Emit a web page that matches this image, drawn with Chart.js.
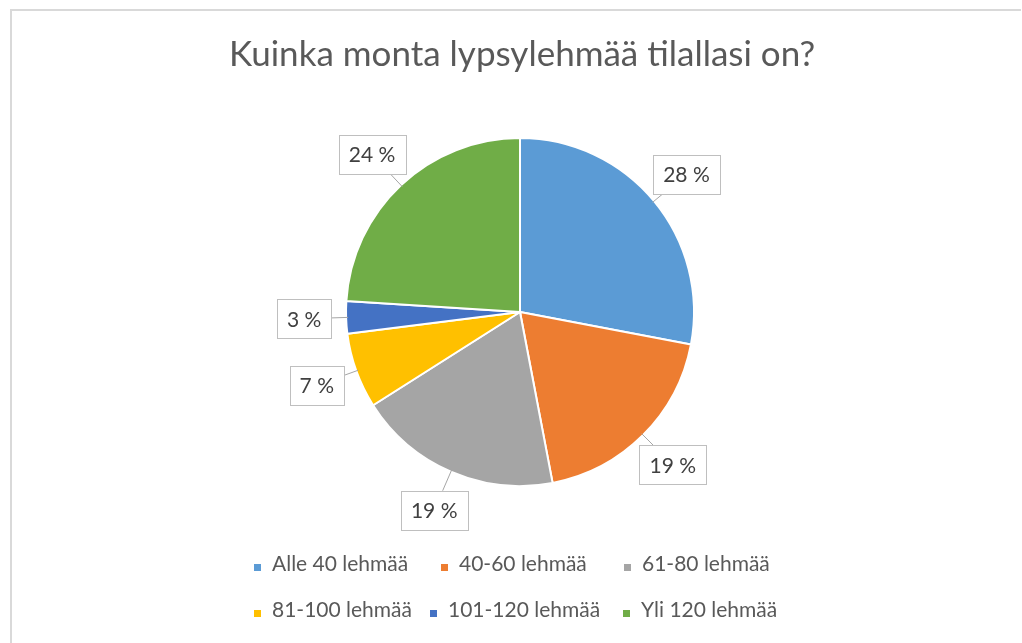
<!DOCTYPE html>
<html>
<head>
<meta charset="utf-8">
<script src="https://cdn.jsdelivr.net/npm/chart.js@4/dist/chart.umd.min.js"></script>
<style>
  html, body { margin: 0; padding: 0; background: #fff; }
</style>
</head>
<body>
<canvas id="myChart" width="1022" height="643"></canvas>
<script>
// Data
const titleText = 'Kuinka monta lypsylehmää tilallasi on?'
const categories = ['Alle 40 lehmää', '40-60 lehmää', '61-80 lehmää', '81-100 lehmää', '101-120 lehmää', 'Yli 120 lehmää']
const shares = [28, 19, 19, 7, 3, 24]
const sliceColors = ['#5B9BD5', '#ED7D31', '#A5A5A5', '#FFC000', '#4472C4', '#70AD47']

const FONT = 'Lato, "Open Sans", sans-serif'
const TEXT = '#595959'

// white background + thin gray frame like the excel chart area
const framePlugin = {
  id: 'frame',
  beforeDraw (chart) {
    const c = chart.ctx
    c.save()
    c.fillStyle = '#fff'
    c.fillRect(0, 0, chart.width, chart.height)
    c.strokeStyle = '#d9d9d9'
    c.lineWidth = 2
    c.beginPath()
    c.moveTo(11, chart.height)
    c.lineTo(11, 10)
    c.lineTo(1021, 10)
    c.stroke()
    c.restore()
  }
}

const titlePlugin = {
  id: 'bigTitle',
  afterDraw (chart) {
    const c = chart.ctx
    c.save()
    c.font = '400 35px ' + FONT
    c.fillStyle = TEXT
    c.textAlign = 'center'
    c.textBaseline = 'alphabetic'
    c.fillText(titleText, 522, 66)
    c.restore()
  }
}

// boxed percentage labels with short leader lines
const calloutPlugin = {
  id: 'callouts',
  afterDatasetsDraw (chart) {
    const c = chart.ctx
    const meta = chart.getDatasetMeta(0)
    const total = shares.reduce((a, b) => a + b, 0)
    c.save()
    c.font = '21px ' + FONT
    meta.data.forEach((arc, i) => {
      const p = arc.getProps(['x', 'y', 'startAngle', 'endAngle', 'outerRadius'], true)
      const mid = (p.startAngle + p.endAngle) / 2
      const txt = Math.round(shares[i] / total * 100) + ' %'
      const w = Math.round(c.measureText(txt).width + 20)
      const h = 39
      const cx = p.x + Math.cos(mid) * (p.outerRadius + 42)
      const cy = p.y + Math.sin(mid) * (p.outerRadius + 42)
      const ax = p.x + Math.cos(mid) * (p.outerRadius - 2)
      const ay = p.y + Math.sin(mid) * (p.outerRadius - 2)
      // where the ray toward the box centre meets the box edge
      const dx = cx - ax
      const dy = cy - ay
      const t = 1 - Math.min((w / 2) / Math.abs(dx || 1e-6), (h / 2) / Math.abs(dy || 1e-6))
      c.strokeStyle = '#a6a6a6'
      c.lineWidth = 1
      c.beginPath()
      c.moveTo(ax, ay)
      c.lineTo(ax + dx * t, ay + dy * t)
      c.stroke()
      const bx = Math.round(cx - w / 2) + 0.5
      const by = Math.round(cy - h / 2) + 0.5
      c.fillStyle = '#fff'
      c.fillRect(bx, by, w, h)
      c.strokeStyle = '#bfbfbf'
      c.strokeRect(bx, by, w, h)
      c.fillStyle = '#404040'
      c.textAlign = 'center'
      c.textBaseline = 'middle'
      c.fillText(txt, cx, cy + 1)
    })
    c.restore()
  }
}

// two-row legend under the pie (x = where the text starts, y = text middle)
const legendSlots = [[272, 564], [459, 564], [642, 564], [272, 610], [448, 610], [641, 610]]
const legendPlugin = {
  id: 'rowLegend',
  afterDraw (chart) {
    const c = chart.ctx
    c.save()
    c.font = '21px ' + FONT
    c.textBaseline = 'middle'
    c.textAlign = 'left'
    categories.forEach((name, i) => {
      const [x, y] = legendSlots[i]
      c.fillStyle = sliceColors[i]
      c.fillRect(x - 18, y, 7, 7)
      c.fillStyle = TEXT
      c.fillText(name, x, y)
    })
    c.restore()
  }
}

const ctx = document.getElementById('myChart')
// eslint-disable-next-line no-unused-vars
const myChart = new Chart(ctx, {
  type: 'pie',
  data: {
    labels: categories,
    datasets: [{
      data: shares,
      backgroundColor: sliceColors,
      borderColor: '#ffffff',
      borderWidth: 2,
      radius: 174
    }]
  },
  options: {
    responsive: false,
    animation: false,
    layout: {
      padding: { left: 340, right: 322, top: 132, bottom: 151 }
    },
    plugins: {
      legend: { display: false },
      title: { display: false },
      tooltip: { enabled: false }
    }
  },
  plugins: [framePlugin, calloutPlugin, titlePlugin, legendPlugin]
})
</script>
</body>
</html>
